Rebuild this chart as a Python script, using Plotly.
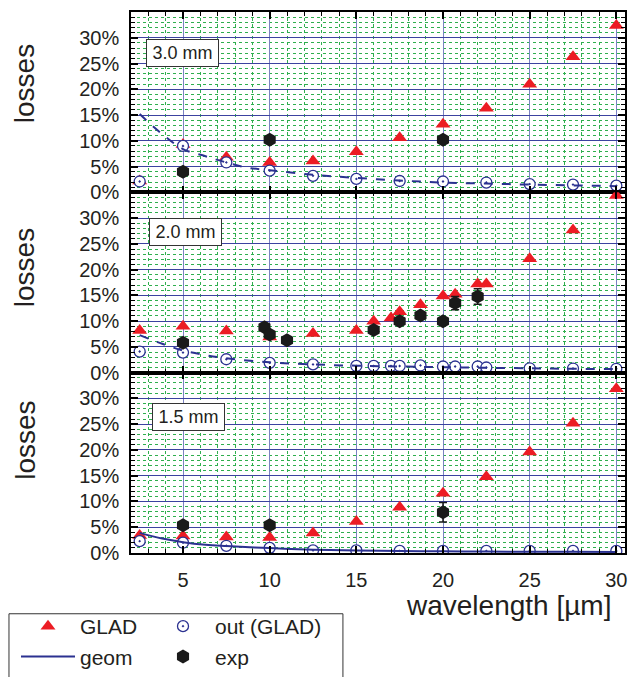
import plotly.graph_objects as go
from plotly.subplots import make_subplots

# ---------------- data ----------------
panel_labels = ["3.0 mm", "2.0 mm", "1.5 mm"]
x_ticks = [5, 10, 15, 20, 25, 30]
y_ticks = [0, 5, 10, 15, 20, 25, 30]
y_ticktext = ["0%", "5%", "10%", "15%", "20%", "25%", "30%"]

# panel 1 : 3.0 mm
wl1 = [2.5, 5, 7.5, 10, 12.5, 15, 17.5, 20, 22.5, 25, 27.5, 30]
glad1 = [2.2, 9.3, 6.8, 5.8, 6.1, 7.9, 10.6, 13.2, 16.3, 21.0, 26.3, 32.4]
out1 = [2.1, 9.0, 5.8, 4.2, 3.2, 2.6, 2.2, 2.1, 1.9, 1.6, 1.5, 1.3]
geom_wl1 = [2.5, 3.8, 5, 6.3, 7.5, 8.7, 10, 12.5, 15, 17.5, 20, 22.5, 25, 27.5, 30]
geom1 = [15.2, 11.3, 8.4, 7.0, 5.8, 4.8, 4.3, 3.4, 2.8, 2.3, 1.9, 1.7, 1.5, 1.35, 1.2]
exp_wl1 = [5, 10, 20]
exp1 = [4.0, 10.2, 10.2]
exp_err1 = [None, None, None]

# panel 2 : 2.0 mm
wl2 = [2.5, 5, 7.5, 10, 12.5, 15, 16, 17, 17.5, 18.7, 20, 20.7, 22, 22.5, 25, 27.5, 30]
glad2 = [8.2, 9.0, 8.1, 6.9, 7.6, 8.2, 10.0, 10.6, 11.8, 13.2, 14.9, 15.2, 17.2, 17.2, 22.1, 27.7, 34.4]
out2 = [4.1, 3.9, 2.6, 1.9, 1.6, 1.3, 1.3, 1.3, 1.3, 1.4, 1.2, 1.2, 1.2, 1.0, 0.85, 0.8, 0.75]
geom_wl2 = [2.5, 3.8, 5, 6.3, 7.5, 10, 12.5, 15, 17.5, 20, 22.5, 25, 27.5, 30]
geom2 = [7.3, 5.6, 4.3, 3.4, 2.8, 2.0, 1.6, 1.35, 1.2, 1.05, 0.95, 0.85, 0.75, 0.7]
exp_wl2 = [5, 9.7, 10, 11, 16, 17.5, 18.7, 20, 20.7, 22]
exp2 = [5.8, 8.8, 7.4, 6.3, 8.3, 10.0, 11.1, 10.0, 13.5, 14.8]
exp_err2 = [None, None, None, None, None, None, None, None, 1.3, 1.5]

# panel 3 : 1.5 mm
wl3 = [2.5, 5, 7.5, 10, 12.5, 15, 17.5, 20, 22.5, 25, 27.5, 30]
glad3 = [3.4, 3.3, 3.1, 3.0, 3.9, 6.1, 8.9, 11.6, 14.8, 19.6, 25.2, 31.9]
out3 = [2.3, 2.0, 1.4, 1.0, 0.5, 0.5, 0.4, 0.4, 0.4, 0.4, 0.4, 0.4]
geom_wl3 = [2.5, 3.8, 5, 6.3, 7.5, 10, 12.5, 15, 17.5, 20, 22.5, 25, 27.5, 30]
geom3 = [3.9, 2.8, 2.1, 1.6, 1.35, 0.95, 0.65, 0.5, 0.4, 0.33, 0.28, 0.25, 0.22, 0.2]
exp_wl3 = [5, 10, 20]
exp3 = [5.4, 5.4, 7.9]
exp_err3 = [None, None, 1.9]

panels = [
    (wl1, glad1, out1, geom_wl1, geom1, "dash", exp_wl1, exp1, exp_err1),
    (wl2, glad2, out2, geom_wl2, geom2, "dash", exp_wl2, exp2, exp_err2),
    (wl3, glad3, out3, geom_wl3, geom3, "solid", exp_wl3, exp3, exp_err3),
]

# ---------------- style ----------------
FONT = "Liberation Sans, Arial, sans-serif"
RED = "#ec1c24"
NAVY = "#2b3190"
BLACK = "#1a1a1a"
TXT = "#231f20"

fig = make_subplots(rows=3, cols=1, shared_xaxes=True, vertical_spacing=0)

for i, (wl, glad, out, gwl, geom, dash, ewl, ex, eerr) in enumerate(panels):
    row = i + 1
    last = row == 3
    fig.add_trace(go.Scatter(
        x=wl, y=glad, mode="markers", name="GLAD",
        marker=dict(symbol="triangle-up", size=13, color=RED, line=dict(width=0)),
        legend="legend", showlegend=last), row=row, col=1)
    fig.add_trace(go.Scatter(
        x=wl, y=out, mode="markers", name="out (GLAD)",
        marker=dict(symbol="circle-dot", size=11, color="white",
                    line=dict(width=1.3, color=NAVY)),
        legend="legend2", showlegend=last), row=row, col=1)
    fig.add_trace(go.Scatter(
        x=gwl, y=geom, mode="lines", name="geom", line_shape="spline",
        line=dict(color=NAVY, width=2, dash=dash),
        legend="legend", showlegend=last), row=row, col=1)
    fig.add_trace(go.Scatter(
        x=ewl, y=ex, mode="markers", name="exp",
        marker=dict(symbol="hexagon", size=14, color=BLACK, line=dict(width=0)),
        error_y=dict(type="data", array=eerr, visible=True, color=BLACK,
                     thickness=1.5, width=4),
        legend="legend2", showlegend=last), row=row, col=1)

    fig.update_xaxes(
        row=row, col=1, range=[2, 30.5], tickmode="array", tickvals=x_ticks,
        showticklabels=last, ticks="inside", ticklen=7, tickwidth=1.5, tickcolor="black",
        showline=True, linecolor="black", linewidth=1.5, mirror="allticks",
        showgrid=True, gridcolor="#7b82c2", gridwidth=1.2, zeroline=False,
        tickfont=dict(family=FONT, size=20, color=TXT), ticklabelstandoff=8,
        minor=dict(tickmode="linear", dtick=1, tick0=0, ticks="inside", ticklen=4, tickwidth=1,
                   tickcolor="black", showgrid=True, gridcolor="#2fae4e", griddash="dot",
                   gridwidth=1),
    )
    fig.update_yaxes(
        row=row, col=1, range=[0, 35], tickmode="array", tickvals=y_ticks,
        ticktext=y_ticktext,
        ticks="inside", ticklen=7, tickwidth=1.5, tickcolor="black",
        showline=True, linecolor="black", linewidth=1.5, mirror="allticks",
        showgrid=True, gridcolor="#3c42a0", gridwidth=1.2, zeroline=False,
        tickfont=dict(family=FONT, size=20, color=TXT), ticklabelstandoff=6,
        minor=dict(tickmode="linear", dtick=1, tick0=0, ticks="inside", ticklen=4, tickwidth=1,
                   tickcolor="black", showgrid=True, gridcolor="#2fae4e", griddash="dot",
                   gridwidth=1),
    )

# panel labels
label_pos = [(0.030, 0.851), (0.036, 0.856), (0.0425, 0.834)]
for i, (lab, (lx, ly)) in enumerate(zip(panel_labels, label_pos)):
    ax = "x" if i == 0 else f"x{i+1}"
    ay = "y" if i == 0 else f"y{i+1}"
    fig.add_annotation(
        text=lab, xref=f"{ax} domain", yref=f"{ay} domain", x=lx, y=ly,
        xanchor="left", yanchor="top", showarrow=False,
        font=dict(family=FONT, size=18, color=TXT),
        bgcolor="white", bordercolor="#333333", borderwidth=1, borderpad=4,
        width=63, height=18)

# y titles "losses"
for yc in [0.867, 0.527, 0.208]:
    fig.add_annotation(text="losses", xref="paper", yref="paper", x=-0.214, y=yc,
                       xanchor="center", yanchor="middle", textangle=-90, showarrow=False,
                       font=dict(family=FONT, size=28, color=TXT))

# x title
fig.add_annotation(text="wavelength [µm]", xref="paper", yref="paper", x=0.975, y=-0.097,
                   xanchor="right", yanchor="middle", showarrow=False,
                   font=dict(family=FONT, size=28, color=TXT))

# legend frame
fig.add_shape(type="rect", xref="paper", yref="paper", x0=-0.247, x1=0.429,
              y0=-0.30, y1=-0.1123, line=dict(color="#333333", width=1), fillcolor="white",
              layer="below")

leg_common = dict(orientation="v", bgcolor="rgba(0,0,0,0)", borderwidth=0,
                  font=dict(family=FONT, size=21, color=TXT), itemwidth=54,
                  xanchor="left", yanchor="bottom", yref="container", y=0.0,
                  tracegroupgap=0)
fig.update_layout(
    width=640, height=677,
    margin=dict(l=131, r=15, t=10, b=124),
    paper_bgcolor="white", plot_bgcolor="white",
    legend=dict(x=-0.2328, **leg_common),
    legend2=dict(x=0.0405, **leg_common),
)

fig.write_html("out.html")
